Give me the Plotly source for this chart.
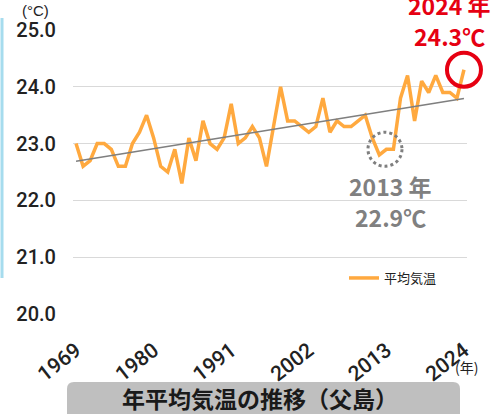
import numpy as np
import plotly.graph_objects as go

years = list(range(1969, 2025))
temps = [23.0, 22.6, 22.7, 23.0, 23.0, 22.9, 22.6, 22.6, 23.0, 23.2,
         23.5, 23.1, 22.6, 22.5, 22.9, 22.3, 23.1, 22.7, 23.4, 23.0,
         22.9, 23.1, 23.7, 23.0, 23.1, 23.3, 23.1, 22.6, 23.3, 24.0,
         23.4, 23.4, 23.3, 23.2, 23.3, 23.8, 23.2, 23.4, 23.3, 23.3,
         23.4, 23.5, 23.1, 22.8, 22.9, 22.9, 23.8, 24.2, 23.4, 24.1,
         23.9, 24.2, 23.9, 23.9, 23.8, 24.3]
tick_years = [1969, 1980, 1991, 2002, 2013, 2024]
tick_labels = ["1969", "1980", "1991", "2002", "2013", "2024"]
y_ticks = [20, 21, 22, 23, 24, 25]
y_labels = ["20.0", "21.0", "22.0", "23.0", "24.0", "25.0"]
highlight_hi = (2024, 24.3)
highlight_lo = (2013, 22.9)

slope, intercept = np.polyfit(years, temps, 1)
trend = [slope * y + intercept for y in years]

W, H = 496, 414
L, R, T, B = 73, 29, 30, 100
PW, PH = W - L - R, H - T - B
XR = [1968.57, 2024.43]
YR = [20, 25]


def px(x):
    return (x - L) / PW


def py(y):
    return (H - B - y) / PH


def dx(v):
    return (v - XR[0]) / (XR[1] - XR[0])


def dy(v):
    return (v - YR[0]) / (YR[1] - YR[0])


fig = go.Figure()
fig.add_trace(go.Scatter(x=years, y=temps, mode="lines", name="平均気温",
                         line=dict(color="#ffa93f", width=3.5)))
fig.add_trace(go.Scatter(x=years, y=trend, mode="lines", showlegend=False,
                         line=dict(color="#7f7f7f", width=1.5)))

shapes = []
shapes.append(dict(type="circle", xref="x domain", yref="y domain",
                   xsizemode="pixel", ysizemode="pixel",
                   xanchor=dx(highlight_hi[0]), yanchor=dy(highlight_hi[1]),
                   x0=-17, x1=17, y0=-17, y1=17,
                   line=dict(color="#e60012", width=4)))
shapes.append(dict(type="circle", xref="x domain", yref="y domain",
                   xsizemode="pixel", ysizemode="pixel",
                   xanchor=dx(highlight_lo[0] - 0.2), yanchor=dy(highlight_lo[1]),
                   x0=-17, x1=17, y0=-17, y1=17,
                   line=dict(color="#7f7f7f", width=3, dash="dot")))
shapes.append(dict(type="line", xref="paper", yref="paper",
                   x0=px(2), x1=px(2), y0=py(18), y1=py(278),
                   line=dict(color="#a6dcee", width=3)))
x0, x1, y0, y1, r = 67, 460, 382, 430, 7
path = (f"M {px(x0)},{py(y1)} L {px(x0)},{py(y0 + r)} Q {px(x0)},{py(y0)} {px(x0 + r)},{py(y0)} "
        f"L {px(x1 - r)},{py(y0)} Q {px(x1)},{py(y0)} {px(x1)},{py(y0 + r)} L {px(x1)},{py(y1)} Z")
shapes.append(dict(type="path", xref="paper", yref="paper", path=path,
                   fillcolor="#bfbfbf", line=dict(width=0), layer="below"))

cjk = "Noto Sans CJK JP"


def note(text, x, y, size, color, family=cjk):
    return dict(text=text, xref="paper", yref="paper", x=px(x), y=py(y),
                xanchor="center", yanchor="middle", showarrow=False,
                font=dict(family=family, size=size, color=color))


ann = [
    note("(°C)", 35, 10, 15, "#222", "Liberation Sans"),
    note("<b>2024 年</b>", 449, 5, 23, "#e60012"),
    note("<b>24.3℃</b>", 449, 36, 23, "#e60012"),
    note("<b>2013 年</b>", 390, 186, 23, "#808080"),
    note("<b>22.9℃</b>", 390, 217, 23, "#808080"),
    note("(年)", 466, 367, 14, "#222"),
    note("<b>年平均気温の推移（父島）</b>", 260, 398, 23, "#1a1a1a"),
]

fig.update_layout(
    width=W, height=H,
    margin=dict(l=L, r=R, t=T, b=B),
    paper_bgcolor="white", plot_bgcolor="white",
    shapes=shapes, annotations=ann,
    showlegend=True,
    legend=dict(x=px(344), y=py(278), xanchor="left", yanchor="middle",
                bgcolor="rgba(0,0,0,0)", font=dict(family=cjk, size=13, color="#222")),
    xaxis=dict(range=XR, tickvals=tick_years, ticktext=tick_labels,
               tickangle=-38, showgrid=False, zeroline=False, showline=False,
               tickfont=dict(family="Roboto", size=21, color="#222", weight=500),
               ticklabelstandoff=19),
    yaxis=dict(range=YR, tickvals=y_ticks, ticktext=y_labels,
               showgrid=True, gridcolor="#d9d9d9", gridwidth=1, zeroline=False, showline=False,
               tickfont=dict(family="Roboto", size=20, color="#222", weight=500),
               ticklabelstandoff=16),
)

fig.write_html("out.html", config={"displayModeBar": False},
               post_script="document.body.style.margin='0';")
